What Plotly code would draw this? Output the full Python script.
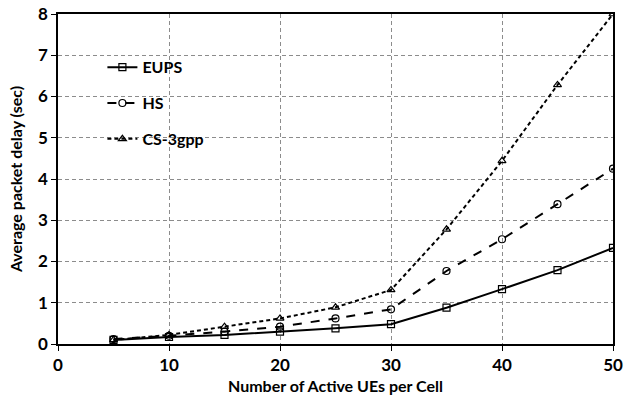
import plotly.graph_objects as go

x_ues = [5, 10, 15, 20, 25, 30, 35, 40, 45, 50]
eups = [0.10, 0.17, 0.22, 0.30, 0.38, 0.48, 0.88, 1.33, 1.79, 2.33]
hs = [0.12, 0.20, 0.30, 0.42, 0.62, 0.84, 1.77, 2.54, 3.39, 4.25]
cs3gpp = [0.10, 0.22, 0.42, 0.62, 0.89, 1.31, 2.78, 4.44, 6.28, 8.00]

series = [
    ("EUPS", eups, "solid", "square-open"),
    ("HS", hs, "dash", "circle-open"),
    ("CS-3gpp", cs3gpp, "4px,3px", "triangle-up-open"),
]

FONT = "Lato"
fig = go.Figure()
for i, (name, vals, dash, sym) in enumerate(series):
    fig.add_trace(go.Scatter(
        x=x_ues, y=vals, name=name, mode="lines+markers",
        line=dict(color="black", width=2, dash=dash),
        marker=dict(symbol=sym, size=7, color="black", line=dict(width=1.2, color="black")),
        legendgroup=f"g{i}",
    ))

axis_common = dict(
    showline=True, linecolor="black", linewidth=1.5, mirror=True,
    ticks="outside", ticklen=5, tickcolor="black", tickwidth=1,
    showgrid=True, gridcolor="#8c8c8c", griddash="4px,3px", gridwidth=1,
    zeroline=False, automargin=False,
    tickfont=dict(family=FONT, size=17, color="black", weight="bold"),
)

fig.update_layout(
    width=635, height=402,
    margin=dict(l=58, r=22, t=14, b=58),
    paper_bgcolor="white", plot_bgcolor="white",
    font=dict(family=FONT, color="black"),
    xaxis=dict(range=[0, 50], dtick=10, tick0=0,
               title=dict(text="Number of Active UEs per Cell", standoff=7,
                          font=dict(family=FONT, size=16, color="black", weight="bold")),
               **axis_common),
    yaxis=dict(range=[0, 8], dtick=1, tick0=0,
               title=dict(text="Average packet delay (sec)", standoff=11,
                          font=dict(family=FONT, size=16, color="black", weight="bold")),
               **axis_common),
    legend=dict(x=0.08, y=0.89, xanchor="left", yanchor="top",
                bgcolor="rgba(0,0,0,0)", borderwidth=0,
                tracegroupgap=12, traceorder="grouped",
                font=dict(family=FONT, size=16, color="black", weight="bold")),
    showlegend=True,
)

fig.write_html("out.html")
